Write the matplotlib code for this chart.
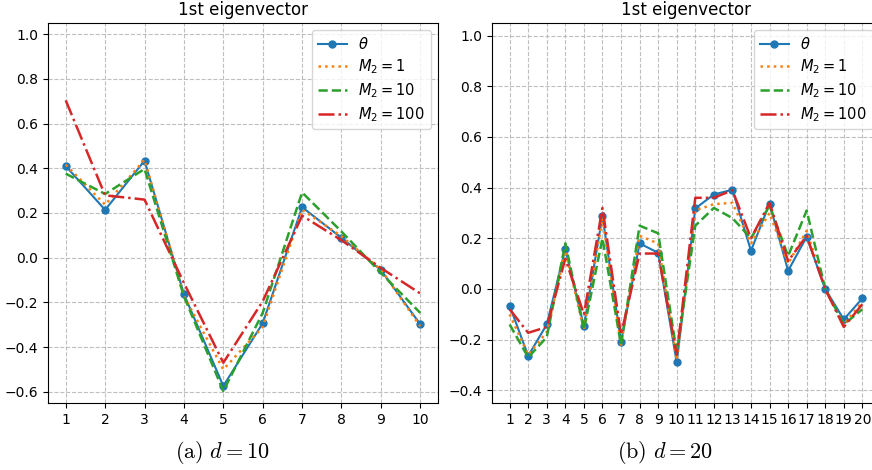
import matplotlib.pyplot as plt
import numpy as np

# d = 10
theta_10 = [0.41, 0.214, 0.434, -0.163, -0.574, -0.293, 0.226, 0.089, -0.055, -0.298]
m1_10 = [0.416, 0.237, 0.438, -0.17, -0.50, -0.31, 0.215, 0.096, -0.053, -0.307]
m10_10 = [0.376, 0.285, 0.397, -0.172, -0.597, -0.247, 0.292, 0.117, -0.068, -0.247]
m100_10 = [0.704, 0.279, 0.26, -0.113, -0.47, -0.195, 0.188, 0.078, -0.046, -0.16]

# d = 20
theta_20 = [-0.066, -0.264, -0.14, 0.158, -0.147, 0.289, -0.209, 0.18, 0.143, -0.29,
            0.318, 0.373, 0.392, 0.151, 0.337, 0.072, 0.206, 0.0, -0.12, -0.037]
m1_20 = [-0.10, -0.26, -0.17, 0.15, -0.16, 0.28, -0.22, 0.21, 0.18, -0.28,
         0.31, 0.335, 0.34, 0.18, 0.30, 0.10, 0.23, 0.0, -0.14, -0.05]
m10_20 = [-0.14, -0.27, -0.19, 0.18, -0.16, 0.20, -0.22, 0.25, 0.22, -0.25,
          0.25, 0.32, 0.28, 0.20, 0.33, 0.13, 0.31, 0.0, -0.14, -0.08]
m100_20 = [-0.08, -0.173, -0.15, 0.12, -0.10, 0.32, -0.18, 0.14, 0.14, -0.26,
           0.36, 0.36, 0.39, 0.20, 0.34, 0.11, 0.21, 0.0, -0.15, -0.06]

fig = plt.figure(figsize=(8.72, 4.70), dpi=100)
W, H = 872, 470
ax1 = fig.add_axes([48 / W, 1 - 403 / H, (438 - 48) / W, (403 - 23) / H])
ax2 = fig.add_axes([492 / W, 1 - 403 / H, (880 - 492) / W, (403 - 23) / H])


def draw(ax, theta, m1, m10, m100, ylim):
    x = np.arange(len(theta))
    ax.plot(x, theta, '-o', color='tab:blue', markersize=5, label=r'$\theta$')
    ax.plot(x, m1, ':', color='tab:orange', linewidth=1.8, label=r'$M_2=1$')
    ax.plot(x, m10, '--', color='tab:green', linewidth=1.8, label=r'$M_2=10$')
    ax.plot(x, m100, '-.', color='tab:red', linewidth=1.8, label=r'$M_2=100$')
    ax.set_xticks(x)
    ax.set_xticklabels([str(i + 1) for i in x])
    ax.set_ylim(*ylim)
    ax.grid(True, linestyle='--', color='#b0b0b0', alpha=0.8, linewidth=0.8)
    ax.set_title('1st eigenvector', fontsize=12)
    ax.tick_params(labelsize=10)
    ax.legend(loc='upper right', fontsize=10.5, labelspacing=0.35)


draw(ax1, theta_10, m1_10, m10_10, m100_10, (-0.65, 1.05))
draw(ax2, theta_20, m1_20, m10_20, m100_20, (-0.45, 1.05))

# captions under each panel
fig.text(222 / W, 1 - 453 / H, r'$\mathrm{(a)}\ d=10$', ha='center', va='center',
         fontsize=16, math_fontfamily='cm')
fig.text(665 / W, 1 - 453 / H, r'$\mathrm{(b)}\ d=20$', ha='center', va='center',
         fontsize=16, math_fontfamily='cm')

fig.savefig('out.png', dpi=100)
